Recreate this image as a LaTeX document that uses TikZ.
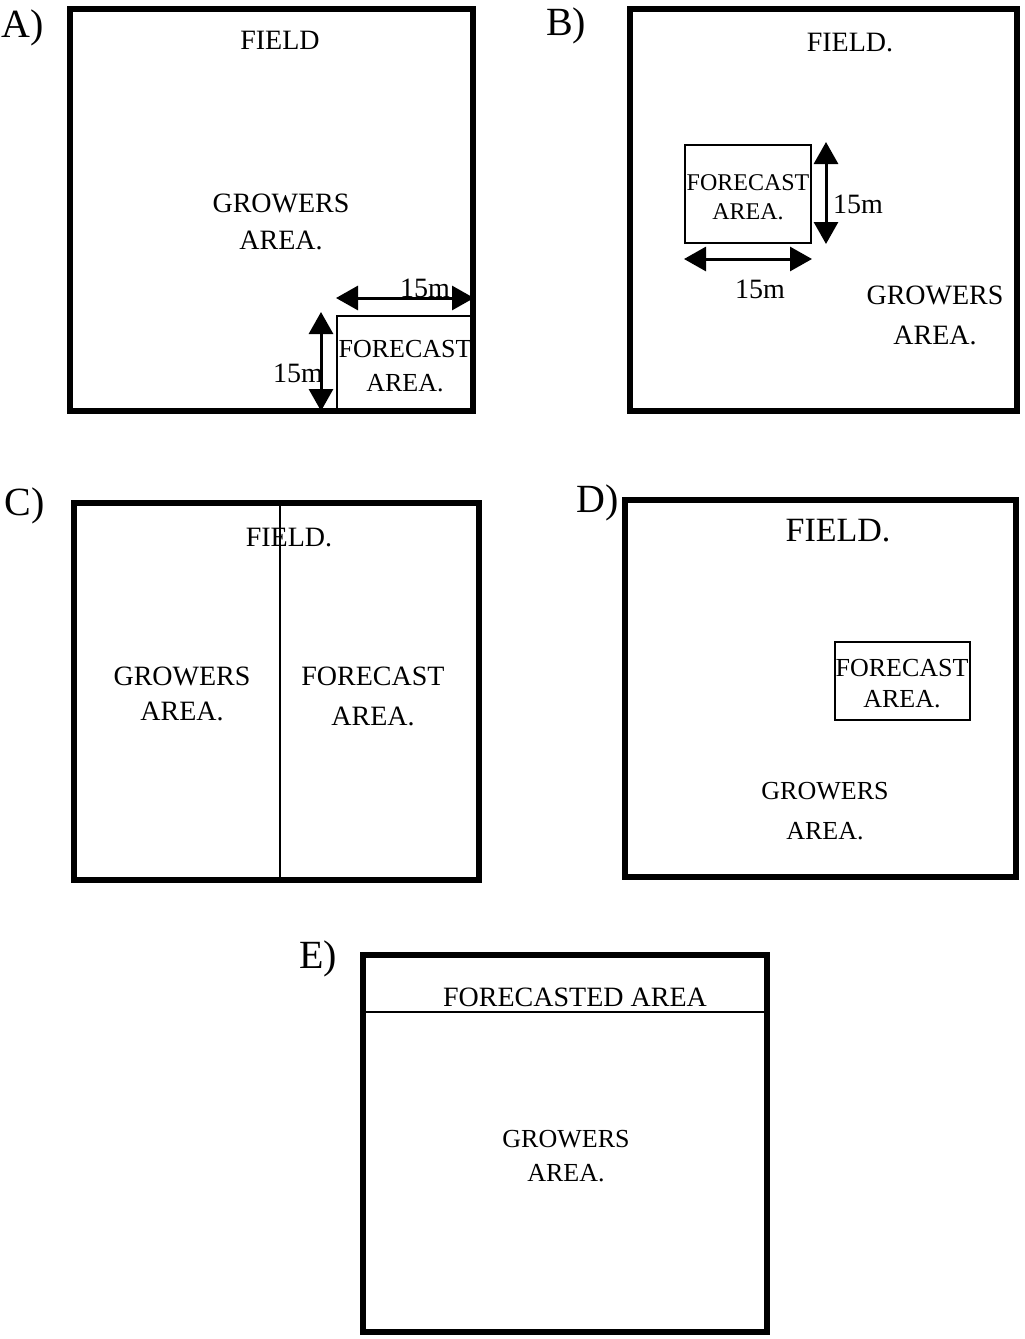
\documentclass[tikz,border=0pt]{standalone}
\usepackage{fontspec}
\setmainfont{Liberation Serif}
\usetikzlibrary{arrows.meta}
\begin{document}
\begin{tikzpicture}[x=1pt,y=-1pt,
  outer/.style={line width=6pt,line join=miter},
  inner/.style={line width=2pt},
  dim/.style={line width=3pt,{Triangle[length=22pt,width=24pt]}-{Triangle[length=22pt,width=24pt]}},
  lab/.style={anchor=base,inner sep=0pt,font=\fontsize{40}{44}\selectfont},
  t28/.style={anchor=base,inner sep=0pt,font=\fontsize{28}{30}\selectfont},
  t26/.style={anchor=base,inner sep=0pt,font=\fontsize{26}{28}\selectfont},
  t24/.style={anchor=base,inner sep=0pt,font=\fontsize{24}{26}\selectfont},
  t34/.style={anchor=base,inner sep=0pt,font=\fontsize{34}{36}\selectfont}]
\path[use as bounding box] (0,0) rectangle (1025,1339);

% ---------- A ----------
\node[lab] (la) at (23,37) {A)};
\draw[outer] (70,9) rectangle (473,411);
\draw[inner] (337,316) rectangle (473,411);
\coordinate (ah1) at (336,298); \coordinate (ah2) at (474,298);
\coordinate (av1) at (321,312); \coordinate (av2) at (321,411);
\draw[dim] (ah1) -- (ah2);
\draw[dim] (av1) -- (av2);
\node[t28] (afield) at (280,49) {FIELD};
\node[t28] (agrow1) at (281,212) {GROWERS};
\node[t28] (agrow2) at (281,249) {AREA.};
\node[t26] (afc1) at (405,357) {FORECAST};
\node[t26] (afc2) at (405,391) {AREA.};
\node[t28] (ad1) at (425,297) {15m};
\node[t28] (ad2) at (298,382) {15m};

% ---------- B ----------
\node[lab] (lb) at (566,35) {B)};
\draw[outer] (630,9) rectangle (1017,411);
\draw[inner] (685,145) rectangle (811,243);
\coordinate (bv1) at (826,142); \coordinate (bv2) at (826,244);
\coordinate (bh1) at (684,259); \coordinate (bh2) at (812,259);
\draw[dim] (bv1) -- (bv2);
\draw[dim] (bh1) -- (bh2);
\node[t28] (bfield) at (850,51) {FIELD.};
\node[t24] (bfc1) at (748,190) {FORECAST};
\node[t24] (bfc2) at (748,219) {AREA.};
\node[t28] (bd1) at (858,213) {15m};
\node[t28] (bd2) at (760,298) {15m};
\node[t28] (bgrow1) at (935,304) {GROWERS};
\node[t28] (bgrow2) at (935,344) {AREA.};

% ---------- C ----------
\node[lab] (lc) at (25,515) {C)};
\draw[outer] (74,503) rectangle (479,880);
\draw[inner] (280,503) -- (280,880);
\node[t28] (cfield) at (289,546) {FIELD.};
\node[t28] (cgrow1) at (182,685) {GROWERS};
\node[t28] (cgrow2) at (182,720) {AREA.};
\node[t28] (cfc1) at (373,685) {FORECAST};
\node[t28] (cfc2) at (373,725) {AREA.};

% ---------- D ----------
\node[lab] (ld) at (598,512) {D)};
\draw[outer] (625,500) rectangle (1016,877);
\draw[inner] (835,642) rectangle (970,720);
\node[t34] (dfield) at (838,541) {FIELD.};
\node[t26] (dfc1) at (902,676) {FORECAST};
\node[t26] (dfc2) at (902,707) {AREA.};
\node[t26] (dgrow1) at (825,799) {GROWERS};
\node[t26] (dgrow2) at (825,839) {AREA.};

% ---------- E ----------
\node[lab] (le) at (318,968) {E)};
\draw[outer] (363,955) rectangle (767,1332);
\draw[inner] (363,1012) -- (767,1012);
\node[t28] (efc) at (575,1006) {FORECASTED AREA};
\node[t26] (egrow1) at (566,1147) {GROWERS};
\node[t26] (egrow2) at (566,1181) {AREA.};
\end{tikzpicture}
\end{document}
